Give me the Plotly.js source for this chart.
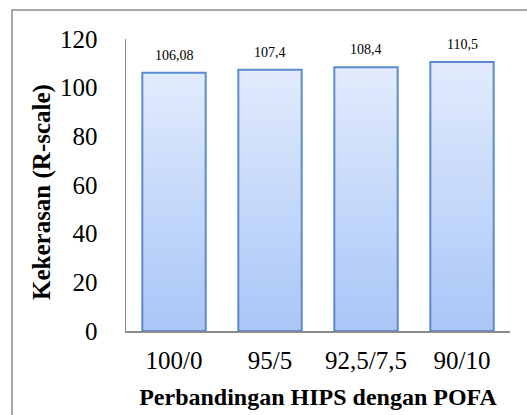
<!DOCTYPE html>
<html>
<head>
<meta charset="utf-8">
<script src="https://cdn.plot.ly/plotly-3.0.1.min.js"></script>
<style>html,body{margin:0;padding:0;background:#fff;}#chart{width:527px;height:415px;}</style>
</head>
<body>
<div id="chart"></div>
<script>
const categories = ["100/0", "95/5", "92,5/7,5", "90/10"];
const values = [106.08, 107.4, 108.4, 110.5];
const valueLabels = ["106,08", "107,4", "108,4", "110,5"];
const yTicks = [0, 20, 40, 60, 80, 100, 120];
const xTitle = "Perbandingan HIPS dengan POFA";
const yTitle = "Kekerasan (R-scale)";

const font = "Liberation Serif, Times New Roman, serif";

const trace = {
  type: "bar",
  x: categories,
  y: values,
  marker: { color: "#c6d9f9", line: { color: "#5a8ad0", width: 2 } },
  hoverinfo: "none"
};

const annotations = categories.map((c, i) => ({
  x: c, y: values[i], text: valueLabels[i], showarrow: false,
  yanchor: "bottom", yshift: 8, font: { family: font, size: 14, color: "#000" }
}));
annotations.push({
  xref: "paper", yref: "paper", x: (42 - 126) / 384, y: (331 - 192) / 292,
  text: "<b>" + yTitle + "</b>", textangle: -90, showarrow: false,
  xanchor: "center", yanchor: "middle", font: { family: font, size: 25, color: "#000" }
});

const layout = {
  width: 527, height: 415,
  margin: { l: 126, r: 17, t: 39, b: 84 },
  paper_bgcolor: "#fff", plot_bgcolor: "#fff",
  showlegend: false,
  bargap: 0.34,
  font: { family: font, color: "#000" },
  xaxis: {
    type: "category",
    showline: true, linecolor: "#8c8c8c", linewidth: 1.5,
    ticks: "outside", ticklen: 6, tickcolor: "rgba(0,0,0,0)",
    tickfont: { family: font, size: 25, color: "#000" },
    showgrid: false, zeroline: false,
    title: { text: "<b>" + xTitle + "</b>", font: { family: font, size: 24, color: "#000" }, standoff: 15 }
  },
  yaxis: {
    range: [0, 120],
    tickvals: yTicks,
    showline: true, linecolor: "#8c8c8c", linewidth: 1.5,
    ticks: "outside", ticklen: 22, tickcolor: "rgba(0,0,0,0)",
    tickfont: { family: font, size: 25, color: "#000" },
    showgrid: false, zeroline: false
  },
  annotations: annotations,
  shapes: [{
    type: "rect", xref: "paper", yref: "paper",
    x0: (12 - 126) / 384, x1: 2, y0: -1, y1: (331 - 10) / 292,
    line: { color: "#8c8c8c", width: 1.5 }, fillcolor: "rgba(0,0,0,0)", layer: "below"
  }]
};

Plotly.newPlot("chart", [trace], layout, { displayModeBar: false, staticPlot: true }).then(gd => {
  const svg = gd.querySelector("svg.main-svg");
  const ns = "http://www.w3.org/2000/svg";
  let defs = svg.querySelector("defs");
  if (!defs) { defs = document.createElementNS(ns, "defs"); svg.insertBefore(defs, svg.firstChild); }
  const grad = document.createElementNS(ns, "linearGradient");
  grad.setAttribute("id", "barGrad");
  grad.setAttribute("x1", "0"); grad.setAttribute("y1", "0");
  grad.setAttribute("x2", "0"); grad.setAttribute("y2", "1");
  [["0%", "#e2ebfc"], ["100%", "#a8c6f7"]].forEach(([o, c]) => {
    const s = document.createElementNS(ns, "stop");
    s.setAttribute("offset", o); s.setAttribute("stop-color", c);
    grad.appendChild(s);
  });
  defs.appendChild(grad);
  gd.querySelectorAll(".barlayer .point path").forEach(p => { p.style.fill = "url(#barGrad)"; });
});
</script>
</body>
</html>
